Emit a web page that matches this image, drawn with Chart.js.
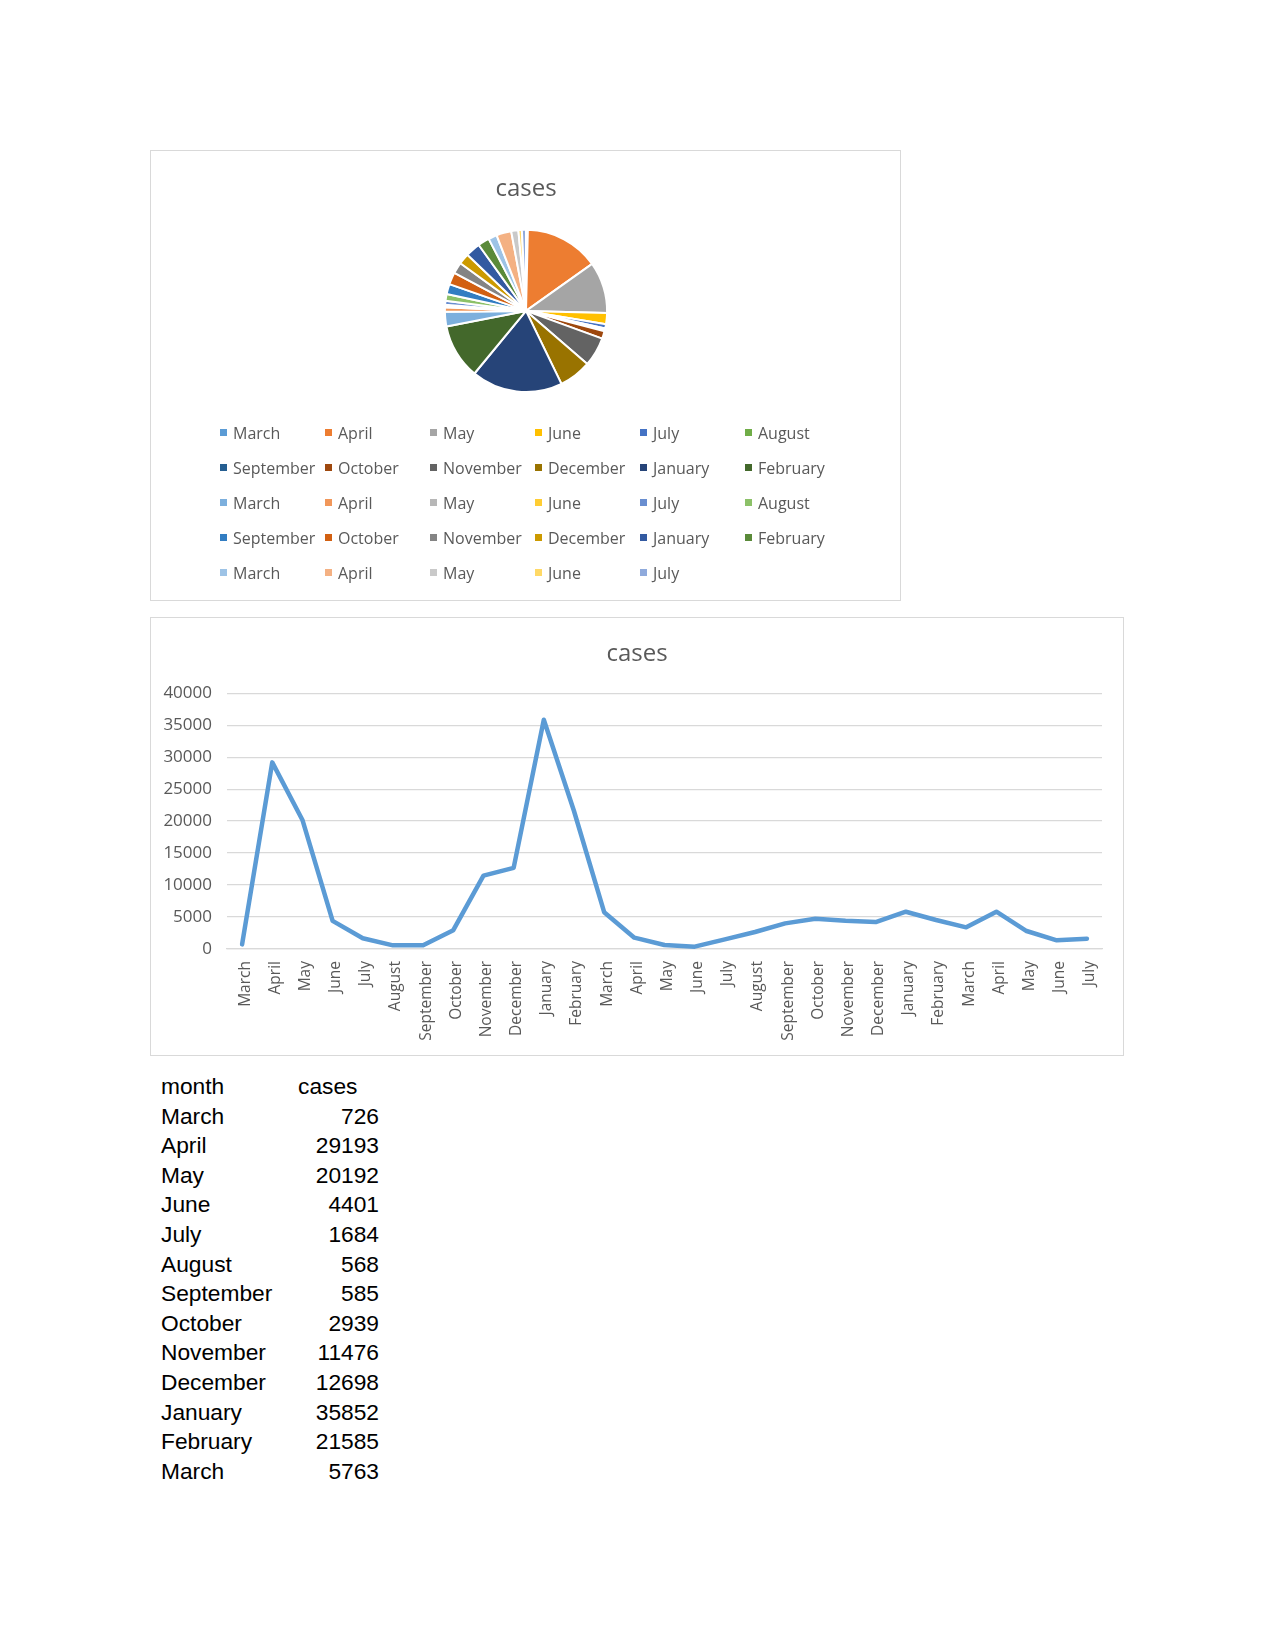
<!DOCTYPE html>
<html lang="en">
<head>
    <meta charset="UTF-8">
    <title>cases</title>
    <script src="https://cdn.jsdelivr.net/npm/chart.js"></script>
    <style>
        body {
            margin: 0;
            background: white;
            width: 1275px;
            height: 1651px;
            position: relative;
            font-family: 'Open Sans', sans-serif;
        }
        .box {
            position: absolute;
            border: 1px solid #d9d9d9;
            box-sizing: border-box;
            background: white;
        }
        .box canvas { position: absolute; left: 0; top: 0; }
        #pieLegend {
            position: absolute;
            left: 220px;
            top: 415px;
            display: grid;
            grid-template-columns: repeat(6, 105px);
            grid-auto-rows: 35px;
            font-size: 16px;
            color: #595959;
        }
        #pieLegend div { display: flex; align-items: center; white-space: nowrap; }
        #pieLegend span.mk { width: 7px; height: 7px; margin-right: 6px; display: inline-block; }
        #sheet {
            position: absolute;
            left: 161px;
            top: 1072px;
            border-collapse: collapse;
            font-family: 'Liberation Sans', Arial, sans-serif;
            font-size: 22.75px;
            color: #000;
        }
        #sheet td { padding: 0; height: 29.6px; line-height: 29.6px; }
        #sheet td.m { width: 137px; }
        #sheet td.v { width: 81px; text-align: right; }
        #sheet td.h { text-align: left; }
    </style>
</head>
<body>
    <div class="box" style="left:150px; top:150px; width:751px; height:451px;">
        <canvas id="pieChart" width="749" height="449"></canvas>
    </div>
    <div id="pieLegend"></div>

    <div class="box" style="left:150px; top:617px; width:974px; height:439px;">
        <canvas id="lineChart" width="972" height="437"></canvas>
    </div>

    <table id="sheet"><tbody></tbody></table>

    <script>
        // month labels, March 2020 .. July 2022
        const months = ['March', 'April', 'May', 'June', 'July', 'August', 'September', 'October', 'November', 'December', 'January', 'February',
                        'March', 'April', 'May', 'June', 'July', 'August', 'September', 'October', 'November', 'December', 'January', 'February',
                        'March', 'April', 'May', 'June', 'July'];
        const cases = [726, 29193, 20192, 4401, 1684, 568, 585, 2939, 11476, 12698, 35852, 21585,
                       5763, 1770, 625, 365, 1510, 2656, 4010, 4740, 4427, 4219, 5833, 4530,
                       3385, 5833, 2812, 1354, 1614];
        const yTicks = [0, 5000, 10000, 15000, 20000, 25000, 30000, 35000, 40000];
        const sheetRows = 13; // rows visible in the table under the charts

        const pieColors = ['#5B9BD5', '#ED7D31', '#A5A5A5', '#FFC000', '#4472C4', '#70AD47',
                           '#255E91', '#9E480E', '#636363', '#997300', '#264478', '#43682B',
                           '#7CAFDD', '#F1975A', '#B7B7B7', '#FFCD33', '#698ED0', '#8CC168',
                           '#327DC2', '#D26012', '#848484', '#CC9A00', '#335AA1', '#5A8A39',
                           '#9DC3E6', '#F4B183', '#C9C9C9', '#FFD966', '#8FAADC'];

        const textGray = '#595959';
        const gridGray = '#d9d9d9';

        // pie
        let pieChart = new Chart(document.getElementById('pieChart'), {
            type: 'pie',
            data: {
                labels: months,
                datasets: [{ data: cases, backgroundColor: pieColors, borderColor: '#ffffff', borderWidth: 2 }]
            },
            options: {
                responsive: false,
                animation: false,
                layout: { padding: { left: 1, right: 0, top: 0, bottom: 207 } },
                plugins: {
                    legend: { display: false },
                    tooltip: { enabled: false },
                    title: {
                        display: true,
                        text: 'cases',
                        color: textGray,
                        font: { family: 'Open Sans', size: 24, weight: 'normal' },
                        padding: { top: 24, bottom: 25 }
                    }
                }
            }
        });

        // legend as a grid, like Excel lays it out
        let legendBox = document.getElementById('pieLegend');
        Chart.overrides.pie.plugins.legend.labels.generateLabels(pieChart).forEach(item => {
            let d = document.createElement('div');
            d.innerHTML = `<span class="mk" style="background:${item.fillStyle}"></span>${item.text}`;
            legendBox.appendChild(d);
        });

        // line
        new Chart(document.getElementById('lineChart'), {
            type: 'line',
            data: {
                labels: months,
                datasets: [{
                    data: cases,
                    borderColor: '#5B9BD5',
                    borderWidth: 4.5,
                    pointRadius: 0,
                    tension: 0,
                    borderJoinStyle: 'round',
                    borderCapStyle: 'round',
                    fill: false
                }]
            },
            options: {
                responsive: false,
                animation: false,
                layout: { padding: 0 },
                plugins: {
                    legend: { display: false },
                    tooltip: { enabled: false },
                    title: {
                        display: true,
                        text: 'cases',
                        color: textGray,
                        font: { family: 'Open Sans', size: 24, weight: 'normal' },
                        padding: { top: 21.5, bottom: 25 }
                    }
                },
                scales: {
                    x: {
                        offset: true,
                        grid: { display: false, drawTicks: false },
                        border: { display: true, color: gridGray, width: 1.3 },
                        ticks: {
                            autoSkip: false,
                            maxRotation: 90,
                            minRotation: 90,
                            padding: 12,
                            labelOffset: 3,
                            color: textGray,
                            font: { family: 'Open Sans', size: 15.5 }
                        },
                        afterFit: s => { s.height = 106; }
                    },
                    y: {
                        min: 0,
                        max: 40000,
                        afterBuildTicks: s => { s.ticks = yTicks.map(v => ({ value: v })); },
                        grid: { color: gridGray, lineWidth: 1.3, drawTicks: false },
                        border: { display: false },
                        ticks: {
                            padding: 15,
                            color: textGray,
                            font: { family: 'Open Sans', size: 17 },
                            callback: v => String(v)
                        },
                        afterFit: s => { s.width = 76; }
                    },
                    // empty right margin, keeps the title centred on the whole box
                    yRight: {
                        position: 'right',
                        grid: { display: false, drawTicks: false },
                        border: { display: false },
                        ticks: { display: false },
                        afterFit: s => { s.width = 21; }
                    }
                }
            }
        });

        // the sheet data below the charts
        let tbody = document.getElementById('sheet').querySelector('tbody');
        tbody.innerHTML = `<tr><td class="m">month</td><td class="v h">cases</td></tr>`;
        for (let i = 0; i < sheetRows; i++) {
            tbody.innerHTML += `<tr><td class="m">${months[i]}</td><td class="v">${cases[i]}</td></tr>`;
        }
    </script>
</body>
</html>
